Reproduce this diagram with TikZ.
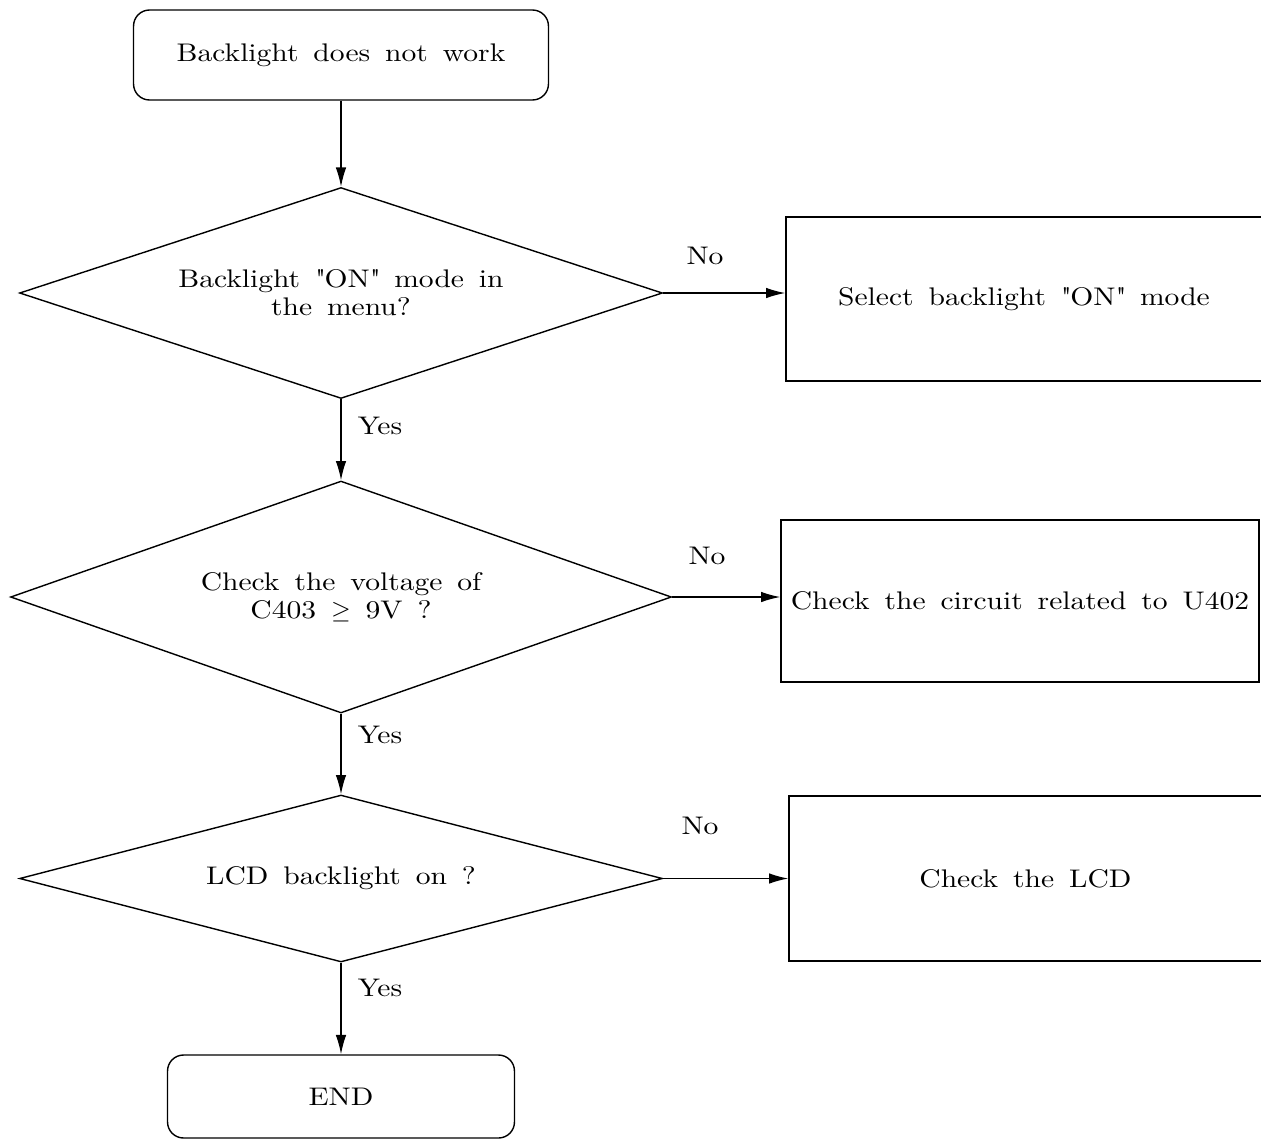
\documentclass[tikz,border=0pt]{standalone}
\usepackage{fontspec}
\usepackage{tikz}
\usetikzlibrary{shapes.geometric, arrows.meta}

\newfontfamily\chartfamily{lmroman10-regular.otf}[FakeStretch=1.16]
\newcommand{\chartfont}{\chartfamily\fontsize{14.5}{16}\selectfont\spaceskip=8.5pt plus 1pt\relax}

\begin{document}
\begin{tikzpicture}[x=0.02cm, y=-0.02cm,
	every node/.style={font=\chartfont},
	terminal/.style={draw, rectangle, rounded corners=0.32cm, line width=0.8pt},
	decision/.style={draw, diamond, inner sep=0pt, align=center, line width=0.8pt},
	action/.style={draw, rectangle, align=center, line width=0.8pt},
	flow/.style={->, line width=0.8pt, >={Latex[length=11pt, width=6pt]}}]
	\useasboundingbox (0,0) rectangle (1261,1140);

	\node[terminal, minimum width=8.3cm, minimum height=1.8cm] (start) at (341,55)
		{Backlight does not work};

	\node[decision, aspect=3.05, minimum width=12.86cm, minimum height=4.22cm] (menu) at (341,293)
		{Backlight \textquotedbl ON\textquotedbl{} mode in\\ the menu?};
	\node[decision, aspect=2.85, minimum width=13.22cm, minimum height=4.64cm] (volt) at (341,597)
		{Check the voltage of\\ C403 $\geq$ 9V ?};
	\node[decision, aspect=3.85, minimum width=12.86cm, minimum height=3.34cm] (lcdon) at (341,878.5)
		{LCD backlight on ?};

	\node[action, minimum width=9.52cm, minimum height=3.28cm] (selon) at (1024,299)
		{Select backlight \textquotedbl ON\textquotedbl{} mode};
	\node[action, minimum width=9.56cm, minimum height=3.24cm] (circuit) at (1020,601)
		{Check the circuit related to U402};
	\node[action, minimum width=9.46cm, minimum height=3.3cm] (lcd) at (1025.5,878.5)
		{Check the LCD};

	\node[terminal, minimum width=6.94cm, minimum height=1.66cm] (end) at (341,1096.5)
		{END};

	% yes / no labels
	\node (no1) at (705,256) {No};
	\node (no2) at (707,556) {No};
	\node (no3) at (700,826) {No};
	\node (yes1) at (380,426) {Yes};
	\node (yes2) at (380,735) {Yes};
	\node (yes3) at (380,988) {Yes};

	\draw[flow] (start) -- (menu.north);
	\draw[flow] (menu.south) -- (volt.north);
	\draw[flow] (volt.south) -- (lcdon.north);
	\draw[flow] (lcdon.south) -- (end.north);

	\draw[flow] (menu.east) -- (menu.east -| selon.west);
	\draw[flow] (volt.east) -- (volt.east -| circuit.west);
	\draw[flow] (lcdon.east) -- (lcdon.east -| lcd.west);
\end{tikzpicture}
\end{document}
